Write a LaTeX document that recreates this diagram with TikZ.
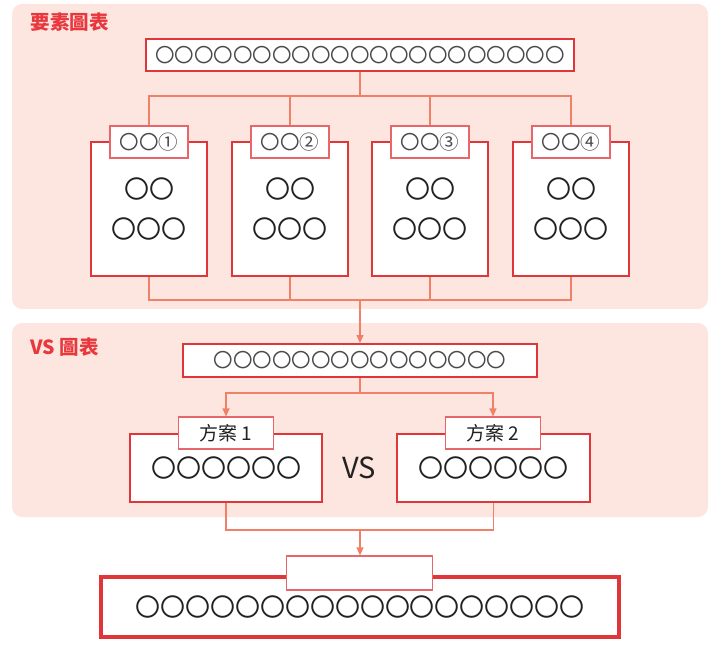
\documentclass[tikz,border=0pt]{standalone}
\usepackage{fontspec}
\setmainfont{Noto Sans CJK TC}
\usetikzlibrary{arrows.meta,calc}
\definecolor{panelc}{HTML}{FDE6DF}
\definecolor{boxred}{HTML}{E0363A}
\definecolor{tabred}{HTML}{E8656A}
\definecolor{linec}{HTML}{F08068}
\definecolor{titlered}{HTML}{E8383D}
\definecolor{circg}{HTML}{4A4A4A}
\definecolor{txtc}{HTML}{222222}
\newcommand{\fsz}[1]{\fontsize{#1}{#1}\selectfont}
\begin{document}
\begin{tikzpicture}[x=1pt,y=-1pt,
 panelbg/.style={fill=panelc, rounded corners=10pt, draw=none},
 mainbox/.style={draw=boxred, line width=2pt, fill=white, inner sep=0pt},
 tabbox/.style={draw=tabred, line width=1.1pt, fill=white, inner sep=0pt, minimum height=32pt},
 conn/.style={draw=linec, line width=1.1pt},
 arr/.style={conn, -{Triangle[length=8pt,width=7pt]}},
 smallc/.style={text=circg, font=\fsz{19.5}},
 bigc/.style={text=txtc, font=\fsz{25}},
 ttl/.style={anchor=west, text=titlered, font=\bfseries\fsz{19.5}},
]
\useasboundingbox (0,0) rectangle (718,647);
% panels
\fill[panelbg] (12,4) rectangle (708,309);
\fill[panelbg] (12,323) rectangle (708,517);
\node[ttl] (t1) at (27,22) {要素圖表};
\node[ttl] (t2) at (27,347) {VS 圖表};

% ---------- panel 1 ----------
\node[mainbox, minimum width=428pt, minimum height=32pt] (top) at (360,55) {};
\node[smallc] (topt) at (top.center) {〇〇〇〇〇〇〇〇〇〇〇〇〇〇〇〇〇〇〇〇〇};

\foreach \i/\x/\n in {1/149/①,2/290/②,3/430/③,4/571/④}{
  \node[mainbox, minimum width=116pt, minimum height=134pt] (b\i) at (\x,209) {};
  \node[tabbox, minimum width=78pt] (tab\i) at (\x,142) {};
  \node[smallc] (tt\i) at (tab\i.center) {〇〇\n};
  \node[bigc] (l\i a) at (\x,189) {〇〇};
  \node[bigc] (l\i b) at (\x,229) {〇〇〇};
}
\coordinate (j1) at ($(top.south)+(0,24)$);
\coordinate (j2) at (360,300);

% ---------- panel 2 ----------
\node[mainbox, minimum width=354pt, minimum height=33pt] (vstop) at (360,360.5) {};
\node[smallc] (vstopt) at (vstop.center) {〇〇〇〇〇〇〇〇〇〇〇〇〇〇〇};

\node[mainbox, minimum width=192pt, minimum height=68pt] (p1) at (226,468) {};
\node[mainbox, minimum width=193pt, minimum height=68pt] (p2) at (493.5,468) {};
\node[tabbox, minimum width=95pt] (pt1) at (226,433) {};
\node[tabbox, minimum width=95pt] (pt2) at (493,433) {};
\node[text=txtc, font=\fsz{19}] (pl1) at (pt1.center) {方案 1};
\node[text=txtc, font=\fsz{19}] (pl2) at (pt2.center) {方案 2};
\node[bigc] (p1t) at (226,468) {〇〇〇〇〇〇};
\node[bigc] (p2t) at (493,468) {〇〇〇〇〇〇};
\node[text=txtc, font=\fsz{29}] (vs) at (359,468) {VS};
\coordinate (j3) at ($(vstop.south)+(0,15)$);
\coordinate (j4) at (360,530);

% ---------- bottom ----------
\node[draw=boxred, line width=4.5pt, fill=white, minimum width=518pt, minimum height=60pt, inner sep=0pt] (fin) at (360,607) {};
\node[tabbox, minimum width=146pt, minimum height=34pt] (ftab) at (359.5,573) {};
\node[bigc] (fint) at (360,607) {〇〇〇〇〇〇〇〇〇〇〇〇〇〇〇〇〇〇};

% ---------- connectors ----------
\draw[conn] (top.south) -- (j1);
\draw[conn] (tab1.north) |- (j1) -| (tab4.north);
\draw[conn] (tab2.north) -- (tab2.north |- j1);
\draw[conn] (tab3.north) -- (tab3.north |- j1);
\draw[conn] (b1.south) |- (j2) -| (b4.south);
\draw[conn] (b2.south) -- (b2.south |- j2);
\draw[conn] (b3.south) -- (b3.south |- j2);
\draw[arr] (j2) -- (j2 |- vstop.north);
\draw[conn] (vstop.south) -- (j3);
\draw[arr] (j3) -| (pt1.north);
\draw[arr] (j3) -| (pt2.north);
\draw[conn] (p1.south) |- (j4) -| (p2.south);
\draw[arr] (j4) -- (j4 |- ftab.north);
\end{tikzpicture}
\end{document}
